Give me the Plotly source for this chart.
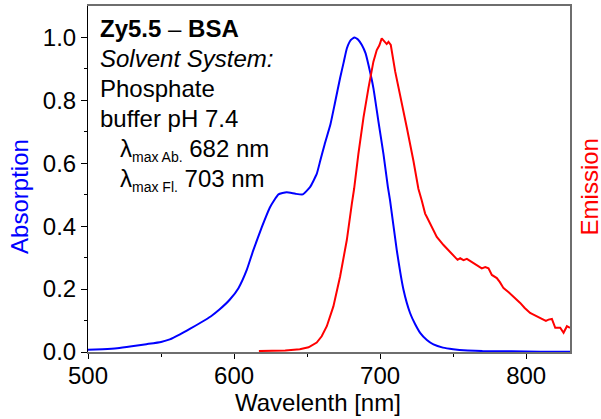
import plotly.graph_objects as go

# Absorption (blue)
abs_wl = [500, 510, 520, 530, 540, 550, 556, 563, 570, 577, 584, 590, 597, 603, 608.7, 613.2, 619, 624.7, 630.4,
          636, 642, 647, 652, 656.6, 659, 662, 666, 669, 672.6, 675, 677.2, 680, 682.4, 685, 687.5, 690,
          692, 695.4, 698.8, 702.3, 705.3, 706.8, 711.4, 716, 720.5, 724, 727.4, 732, 736.5, 743, 750, 760, 770, 790, 810, 830]
abs_val = [0.007, 0.009, 0.012, 0.018, 0.025, 0.032, 0.040, 0.056, 0.074, 0.093, 0.113, 0.135, 0.166, 0.203, 0.261, 0.324, 0.397, 0.461, 0.501,
           0.508, 0.503, 0.501, 0.524, 0.566, 0.608, 0.660, 0.724, 0.790, 0.871, 0.920, 0.965, 0.992, 1.0, 0.993, 0.976, 0.950,
           0.913, 0.839, 0.734, 0.629, 0.525, 0.482, 0.324, 0.198, 0.124, 0.088, 0.061, 0.038, 0.024, 0.014, 0.009, 0.005, 0.003, 0.002, 0.001, 0.001]

# Emission (red)
em_wl = [617, 625, 635, 645, 651, 656.6, 660, 663.5, 668, 672.6, 677.2, 680.6, 682.2, 685.1, 688.6, 692, 695.4,
         697.7, 699.5, 701.1, 702.2, 703.4, 704.5, 705.7, 707.3, 710.3, 713.7, 718.3, 722.8, 726.2, 728.5, 730.8, 732,
         735.4, 738.8, 743.4, 747, 751.4, 753, 754.8, 757.1, 759.4, 761, 763.9, 766, 769.6, 772, 774.2, 776.5, 779.9,
         782, 784.5, 788, 791.3, 795.9, 799, 802.7, 805, 807.3, 809, 811.8, 813.5, 815.3, 817.6, 819.9, 823.3, 825.6, 827.9, 830]
em_val = [0.003, 0.004, 0.005, 0.009, 0.015, 0.030, 0.050, 0.082, 0.145, 0.240, 0.356, 0.470, 0.519, 0.629, 0.745, 0.839, 0.923,
          0.960, 0.975, 0.997, 0.990, 0.984, 0.979, 0.986, 0.976, 0.892, 0.818, 0.713, 0.608, 0.519, 0.482, 0.440, 0.429,
          0.397, 0.366, 0.340, 0.322, 0.303, 0.293, 0.298, 0.292, 0.296, 0.291, 0.282, 0.276, 0.266, 0.270, 0.266, 0.245, 0.235,
          0.222, 0.203, 0.190, 0.177, 0.156, 0.140, 0.124, 0.119, 0.114, 0.108, 0.103, 0.099, 0.103, 0.105, 0.077, 0.077, 0.061, 0.082, 0.077]

x_ticks = [500, 600, 700, 800]
y_ticks = [0.0, 0.2, 0.4, 0.6, 0.8, 1.0]

FONT = "Arial, Liberation Sans, sans-serif"
FS = 24

fig = go.Figure()
fig.add_trace(go.Scatter(x=abs_wl, y=abs_val, mode="lines", line=dict(color="#0000ff", width=2, shape="spline", smoothing=0.4),
                         showlegend=False))
fig.add_trace(go.Scatter(x=em_wl, y=em_val, mode="lines", line=dict(color="#ff0000", width=2),
                         showlegend=False, yaxis="y2"))

fig.update_layout(
    width=601, height=419,
    margin=dict(l=88, r=31, t=4, b=67),
    paper_bgcolor="white", plot_bgcolor="white",
    font=dict(family=FONT, size=FS, color="black"),
    xaxis=dict(range=[500, 830], tickvals=x_ticks, ticktext=[str(v) for v in x_ticks],
               showline=True, linecolor="#6e6e6e", linewidth=2, mirror=True,
               ticks="outside", ticklen=5, tickwidth=1, tickcolor="black", ticklabelstandoff=-4,
               minor=dict(tickvals=[550, 650, 750], ticks="outside", ticklen=3, tickcolor="black"),
               showgrid=False, zeroline=False, tickfont=dict(size=FS)),
    yaxis=dict(range=[0, 1.1], tickvals=y_ticks, ticktext=["%.1f" % v for v in y_ticks],
               showline=True, linecolor="black", linewidth=1,
               ticks="outside", ticklen=6, tickwidth=1, tickcolor="black",
               minor=dict(tickvals=[0.1, 0.3, 0.5, 0.7, 0.9], ticks="outside", ticklen=3, tickcolor="black"),
               showgrid=False, zeroline=False, tickfont=dict(size=FS)),
    yaxis2=dict(range=[0, 1.1], overlaying="y", side="right", showline=True, linecolor="#6e6e6e", linewidth=2,
                showticklabels=False, ticks="", showgrid=False, zeroline=False),
)


def px_ann(text, x, y, size=FS, color="black", xanchor="center", yanchor="middle", angle=0):
    # convert pixel coords to paper coords
    xp = (x - 88) / (570 - 88)
    yp = (352 - y) / (352 - 4)
    fig.add_annotation(text=text, x=xp, y=yp, xref="paper", yref="paper", showarrow=False,
                       xanchor=xanchor, yanchor=yanchor, textangle=angle,
                       font=dict(family=FONT, size=size, color=color))


px_ann("Wavelenth [nm]", 317.5, 403)
px_ann("Absorption", 20, 196, color="#0000ff", angle=-90)
px_ann("Emission", 589.5, 186, color="#ff0000", angle=-90)

px_ann("<b>Zy5.5</b> – <b>BSA</b>", 98, 27, xanchor="left")
px_ann("<i>Solvent System:</i>", 98, 57, xanchor="left")
px_ann("Phosphate", 98, 87, xanchor="left")
px_ann("buffer pH 7.4", 98, 117, xanchor="left")
px_ann("λ<sub><span style='font-size:14px'>max Ab.</span></sub> 682 nm", 118, 149, xanchor="left")
px_ann("λ<sub><span style='font-size:14px'>max Fl.</span></sub> 703 nm", 118, 179, xanchor="left")

fig.write_html("out.html", config={"displayModeBar": False},
               post_script="document.body.style.margin='0';document.body.style.padding='0';")
